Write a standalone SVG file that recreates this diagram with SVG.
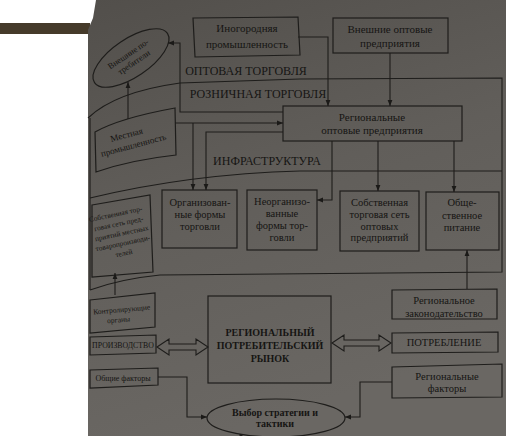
<svg xmlns="http://www.w3.org/2000/svg" width="506" height="439" viewBox="0 0 506 439">
<defs>
<linearGradient id="pg" x1="0" y1="0" x2="0.3" y2="1">
<stop offset="0" stop-color="#524f4b"/>
<stop offset="0.5" stop-color="#615e5a"/>
<stop offset="1" stop-color="#6a6763"/>
</linearGradient>
<marker id="ah" viewBox="0 0 10 10" refX="10" refY="5" markerWidth="6" markerHeight="6" orient="auto" markerUnits="userSpaceOnUse">
<path d="M0,1 L10,5 L0,9 Z" fill="#1b1a18"/>
</marker>
<style>
.t{font-family:"Liberation Serif","Times New Roman",serif;fill:#161513;text-anchor:middle}
.b{fill:none;stroke:#1e1d1b;stroke-width:1.2}
.c{fill:none;stroke:#1e1d1b;stroke-width:1.1}
.a{marker-end:url(#ah)}
.f11{font-size:11px}
.f10{font-size:10.5px}
.f8{font-size:8px}
.bold{font-weight:bold}
</style>
</defs>
<rect width="506" height="439" fill="#ffffff"/>
<rect x="0" y="23" width="90" height="11" fill="#453a2a"/>
<path d="M88,436 L88,30 L93,18 L96,0 L506,0 L506,436 Z" fill="url(#pg)"/>

<g id="frame">
<path class="c" d="M88,118 Q115,92 180,83 L300,79 L502,78 L502,272 L160,275 Q120,279 90,290"/>
<path class="c" d="M90,118 L90,290"/>
<path class="c" d="M502,171 L300,171 Q190,174 90,198"/>
<text class="t" x="246" y="75" font-size="12">ОПТОВАЯ ТОРГОВЛЯ</text>
<text class="t" x="258" y="98" font-size="12">РОЗНИЧНАЯ ТОРГОВЛЯ</text>
<text class="t" x="267" y="165" font-size="12">ИНФРАСТРУКТУРА</text>
</g>

<g id="vneshnie-potrebiteli">
<ellipse class="b" cx="131" cy="58" rx="44" ry="19" transform="rotate(-34 131 58)"/>
<g transform="rotate(-34 131 58)">
<text class="t" font-size="8.5" x="131" y="56">Внешние по-</text>
<text class="t" font-size="8.5" x="131" y="66">требители</text>
</g>
</g>

<g id="inogorodnyaya">
<polygon class="b" points="193,18 298,17 300,55 195,57"/>
<text class="t f11" x="247" y="32">Иногородняя</text>
<text class="t f11" x="247" y="48">промышленность</text>
</g>

<g id="vneshnie-optovye">
<rect class="b" x="333" y="18" width="115" height="35"/>
<text class="t f11" x="390" y="33">Внешние оптовые</text>
<text class="t f11" x="390" y="47">предприятия</text>
</g>

<g id="regionalnye-optovye">
<rect class="b" x="283" y="106" width="179" height="35"/>
<text class="t f11" x="372" y="121">Региональные</text>
<text class="t f11" x="372" y="134">оптовые предприятия</text>
</g>

<g id="mestnaya">
<path class="b" d="M95,132 Q120,118 175,108 L176,155 Q130,160 96,172 Z"/>
<g transform="rotate(-15 130 140)">
<text class="t" font-size="9" x="128" y="137">Местная</text>
<text class="t" font-size="9" x="132" y="149">промышленность</text>
</g>
</g>

<g id="sobstv-mestnykh">
<polygon class="b" points="92,205 150,195 153,272 92,277"/>
<g transform="rotate(-12 120 235)">
<text class="t" font-size="7.3" x="120" y="216">Собственная тор-</text>
<text class="t" font-size="7.3" x="121" y="226">говая сеть пред-</text>
<text class="t" font-size="7.3" x="122" y="236">приятий местных</text>
<text class="t" font-size="7.3" x="121" y="246">товаропроизводи-</text>
<text class="t" font-size="7.3" x="120" y="256">телей</text>
</g>
</g>

<g id="organizovannye">
<rect class="b" x="162" y="190" width="75" height="58"/>
<text class="t f10" x="200" y="206">Организован-</text>
<text class="t f10" x="200" y="218">ные формы</text>
<text class="t f10" x="200" y="230">торговли</text>
</g>

<g id="neorganizovannye">
<rect class="b" x="247" y="190" width="70" height="60"/>
<text class="t f10" x="282" y="205">Неорганизо-</text>
<text class="t f10" x="282" y="217">ванные</text>
<text class="t f10" x="282" y="229">формы тор-</text>
<text class="t f10" x="282" y="241">говли</text>
</g>

<g id="sobstv-optovykh">
<rect class="b" x="340" y="191" width="79" height="60"/>
<text class="t f10" x="379.5" y="206">Собственная</text>
<text class="t f10" x="379.5" y="218">торговая сеть</text>
<text class="t f10" x="379.5" y="230">оптовых</text>
<text class="t f10" x="379.5" y="241">предприятий</text>
</g>

<g id="obshchestvennoe">
<rect class="b" x="426" y="192" width="73" height="58"/>
<text class="t f10" x="462" y="206">Обще-</text>
<text class="t f10" x="462" y="219">ственное</text>
<text class="t f10" x="462" y="231">питание</text>
</g>

<g id="kontroliruyushchie">
<polygon class="b" points="90,300 155,293 155,327 90,333"/>
<g transform="rotate(-5 122 313)">
<text class="t" font-size="7.5" x="122" y="312">Контролирующие</text>
<text class="t" font-size="7.5" x="118" y="322">органы</text>
</g>
</g>

<g id="proizvodstvo">
<polygon class="b" points="90,337 156,335 156,353 90,355"/>
<text class="t" font-size="7.8" x="123" y="348">ПРОИЗВОДСТВО</text>
</g>

<g id="obshchie-faktory">
<polygon class="b" points="90,370 158,368 158,385 90,388"/>
<text class="t f8" x="123" y="381">Общие факторы</text>
</g>

<g id="rynok">
<rect class="b" x="208" y="296" width="123" height="87"/>
<text class="t bold" font-size="10" x="270" y="336">РЕГИОНАЛЬНЫЙ</text>
<text class="t bold" font-size="10" x="270" y="349">ПОТРЕБИТЕЛЬСКИЙ</text>
<text class="t bold" font-size="10" x="270" y="362">РЫНОК</text>
</g>

<g id="zakonodatelstvo">
<polygon class="b" points="392,290 497,289 497,319 392,319"/>
<text class="t f10" x="444" y="304">Региональное</text>
<text class="t f10" x="444" y="317">законодательство</text>
</g>

<g id="potreblenie">
<polygon class="b" points="392,333 498,332 498,352 392,353"/>
<text class="t f10" x="444" y="346">ПОТРЕБЛЕНИЕ</text>
</g>

<g id="regionalnye-faktory">
<polygon class="b" points="392,367 502,364 502,397 392,398"/>
<text class="t f10" x="447" y="380">Региональные</text>
<text class="t f10" x="447" y="392">факторы</text>
</g>

<g id="vybor">
<ellipse class="b" cx="276" cy="418" rx="69" ry="19"/>
<text class="t bold" font-size="10" x="275" y="416">Выбор стратегии и</text>
<text class="t bold" font-size="10" x="275" y="427">тактики</text>
</g>

<g id="connectors">
<path class="c a" d="M298,37 L328,37 L328,106"/>
<path class="c a" d="M390,53 L390,106"/>
<path class="c a" d="M283,112 L180,112 L180,43 L168,43"/>
<path class="c a" d="M128,119 L128,82"/>
<path class="c a" d="M175,123 L283,123"/>
<path class="c a" d="M193,123 L193,190"/>
<path class="c a" d="M283,132 L206,132 L206,190"/>
<path class="c a" d="M332,141 L332,200 L317,200"/>
<path class="c a" d="M378,141 L378,191"/>
<path class="c a" d="M454,141 L454,192"/>
<path class="c a" d="M467,289 L467,250"/>
<path class="c a" d="M115,295 L115,273"/>
<path class="c a" d="M158,377 L187,377 L187,417 L207,417"/>
<path class="c a" d="M392,382 L360,382 L360,417 L345,417"/>
<path d="M241,434 L241,439" stroke="#1e1d1b" stroke-width="3"/>
<path class="c" d="M157,347 L169,339 L169,344 L196,344 L196,339 L208,347 L196,355 L196,350 L169,350 L169,355 Z"/>
<path class="c" d="M332,343 L344,335 L344,340 L379,340 L379,335 L391,343 L379,351 L379,346 L344,346 L344,351 Z"/>
</g>
<rect x="0" y="436" width="506" height="3" fill="#ffffff"/>
</svg>
